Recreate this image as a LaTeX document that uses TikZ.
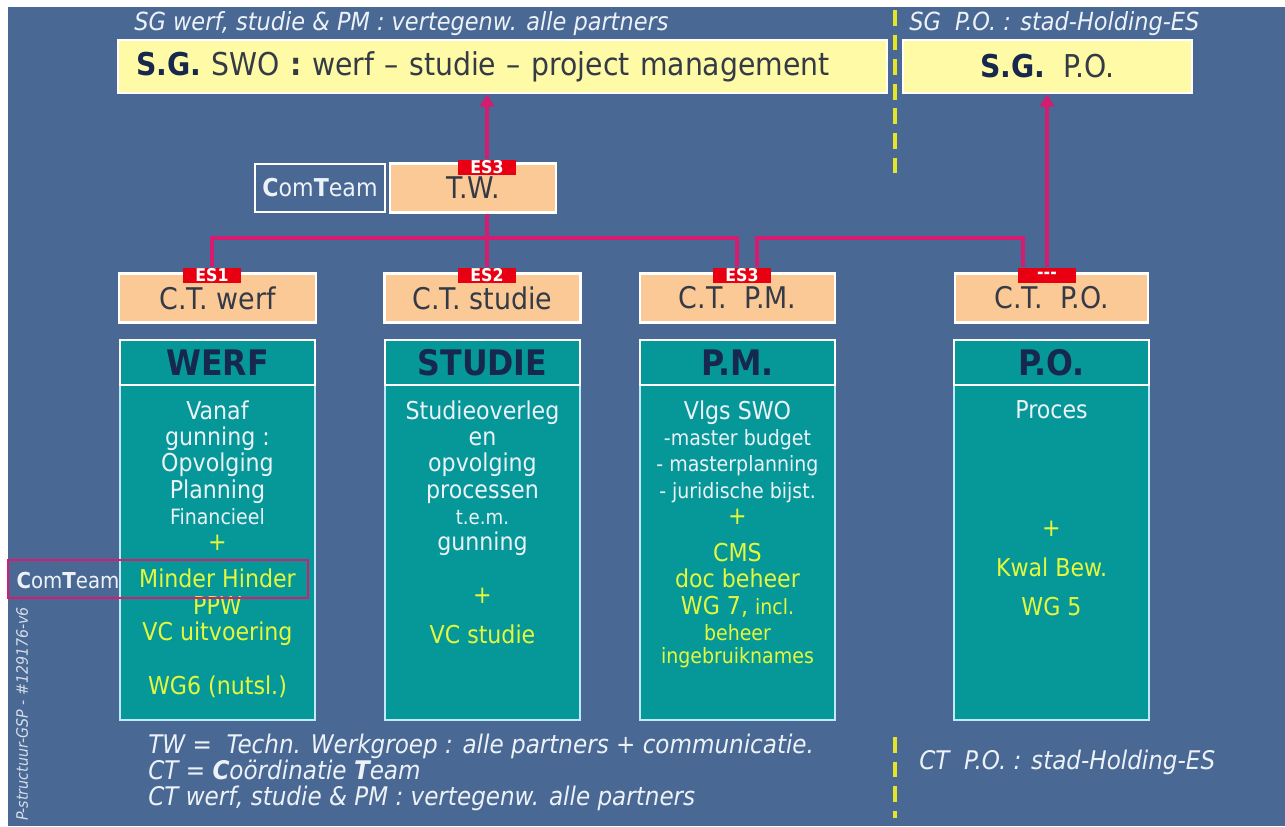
\documentclass[tikz,border=0pt]{standalone}
\usepackage{fontspec}
\setmainfont{DejaVu Sans Condensed}
\usetikzlibrary{arrows.meta}

\definecolor{slide}{RGB}{74,104,148}
\definecolor{tealbox}{RGB}{6,152,152}
\definecolor{peach}{RGB}{251,201,150}
\definecolor{lemon}{RGB}{255,250,165}
\definecolor{linkpink}{RGB}{214,28,112}
\definecolor{esred}{RGB}{232,0,18}
\definecolor{lime}{RGB}{230,248,60}
\definecolor{navyhead}{RGB}{22,40,78}
\definecolor{ink}{RGB}{52,58,70}
\definecolor{pale}{RGB}{236,242,248}
\definecolor{dashyellow}{RGB}{230,228,40}

\newcommand{\fsize}[2]{\fontsize{#1}{#2}\selectfont}
\newcommand{\yel}{\color{lime}}

\begin{document}
\begin{tikzpicture}[x=0.02cm, y=-0.02cm,
    sgbox/.style={draw=white, line width=1.5pt, fill=lemon, minimum height=1.06cm, inner sep=0pt, text=ink, font=\fsize{17.9}{22}},
    ctbox/.style={draw=white, line width=1.5pt, fill=peach, minimum height=0.98cm, inner sep=0pt, text=ink, font=\fsize{17}{20}},
    eslabel/.style={fill=esred, minimum width=1.16cm, minimum height=0.3cm, inner sep=0pt, text=white, font=\bfseries\fsize{10}{11}},
    colbox/.style={draw=white!75!cyan, line width=1.2pt, fill=tealbox, minimum width=3.9cm, minimum height=7.6cm, inner sep=0pt},
    colhead/.style={draw=white, line width=1.2pt, minimum width=3.9cm, minimum height=0.9cm, inner sep=0pt, text=navyhead, font=\bfseries\fsize{20}{22}},
    coltext/.style={anchor=north, align=center, inner sep=0pt, text=pale, font=\fsize{14}{15}},
    note/.style={inner sep=0pt, text=pale, font=\itshape\fsize{14.6}{14.8}, align=left},
    link/.style={draw=linkpink, line width=2pt},
    uparrow/.style={-{Triangle[width=8pt,length=7pt]}}]

    \useasboundingbox (0,0) rectangle (1285,826);
    \fill[white] (0,0) rectangle (1285,826);
    \fill[slide] (8,7) rectangle (1285,826);

    \draw[dashyellow, line width=2.5pt, dash pattern=on 9pt off 5pt] (895,10) -- (895,182);
    \draw[dashyellow, line width=2.5pt, dash pattern=on 9pt off 5pt] (895,737) -- (895,818);

    \node[note, anchor=west, font=\itshape\fsize{14.2}{15}] (sgnote) at (134,24) {SG werf, studie \& PM : vertegenw. alle partners};
    \node[note, anchor=west, font=\itshape\fsize{14.2}{15}] (ponote) at (909,24) {SG~~P.O. : stad-Holding-ES};

    \node[sgbox, text width=14.66cm, inner xsep=0.36cm, align=left] (sgswo) at (502.5,66.5) {{\bfseries\color{navyhead}S.G.} SWO {\bfseries :} werf – studie – project management};
    \node[sgbox, minimum width=5.78cm] (sgpo) at (1047.5,66.5) {{\bfseries\color{navyhead}S.G.}~~P.O.};

    \node[draw=white, line width=1.5pt, fill=slide, minimum width=2.6cm, minimum height=0.96cm, inner sep=0pt, text=pale, font=\fsize{14}{16}] (comteam) at (320,188) {{\bfseries C}om{\bfseries T}eam};
    \node[ctbox, minimum width=3.32cm] (tw) at (473,188) {T.W.};
    \node[eslabel] (es3tw) at (487,167) {ES3};

    \node[ctbox, minimum width=3.94cm] (ctwerf) at (217.5,298) {C.T. werf};
    \node[ctbox, minimum width=3.92cm] (ctstudie) at (482.5,298) {C.T. studie};
    \node[ctbox, minimum width=3.9cm] (ctpm) at (737.5,298) {C.T.~~P.M.};
    \node[ctbox, minimum width=3.86cm] (ctpo) at (1051.5,298) {C.T.~~P.O.};

    \node[eslabel] (es1) at (212,275) {ES1};
    \node[eslabel] (es2) at (487,275) {ES2};
    \node[eslabel] (es3pm) at (742,275) {ES3};
    \node[eslabel] (espo) at (1047,275) {-{}-{}-};

    \coordinate (hub) at (487,238);
    \coordinate (pmin) at (737,267);
    \coordinate (pmout) at (757,267);
    \coordinate (poin) at (1023,267);
    \coordinate (pobar) at (1023,238);

    \draw[link, uparrow] (es3tw.north) -- (sgswo.south -| es3tw.north);
    \draw[link] (tw.south -| hub) -- (hub);
    \draw[link] (es1.north) |- (hub) -- (es2.north);
    \draw[link] (hub) -| (pmin);
    \draw[link] (pmout) |- (pobar) -- (poin);
    \draw[link, uparrow] (espo.north) -- (sgpo.south -| espo.north);

    \node[colbox] (werf) at (217.5,530) {};
    \node[colbox] (studie) at (482.5,530) {};
    \node[colbox] (pm) at (737.5,530) {};
    \node[colbox] (po) at (1051.5,530) {};

    \node[colhead] (werfhead) at (217.5,362.5) {WERF};
    \node[colhead] (studiehead) at (482.5,362.5) {STUDIE};
    \node[colhead] (pmhead) at (737.5,362.5) {P.M.};
    \node[colhead] (pohead) at (1051.5,362.5) {P.O.};

    \node[coltext] (werftext) at (217.5,400) {Vanaf\\gunning :\\Opvolging\\Planning\\{\fsize{12}{15}Financieel}\\\yel +\\[6pt]\yel Minder Hinder\\\yel PPW\\\yel VC uitvoering\\[16pt]\yel WG6 (nutsl.)};
    \node[coltext] (studietext) at (482.5,400) {Studieoverleg\\en\\opvolging\\processen\\{\fsize{11.5}{15}t.e.m.}\\gunning\\[15pt]\yel +\\[8pt]\yel VC studie};
    \node[coltext] (pmtext) at (737.5,400) {Vlgs SWO\\{\fsize{12}{15}-master budget}\\{\fsize{12}{15}- masterplanning}\\{\fsize{12}{15}- juridische bijst.}\\\yel +\\[6pt]\yel CMS\\\yel doc beheer\\\yel WG 7, {\fsize{12}{15}incl.}\\{\yel\fsize{12}{15}beheer}\\[-2pt]{\yel\fsize{12}{15}ingebruiknames}};
    \node[coltext] (potext) at (1051.5,400) {Proces\\[52pt]\yel +\\[8pt]\yel Kwal Bew.\\[7pt]\yel WG 5};

    \node[draw=linkpink, line width=1.5pt, minimum width=6cm, minimum height=0.76cm, inner sep=0pt] (comteammark) at (158,579) {};
    \node[text=pale, font=\fsize{12.5}{15}] (comteamside) at (68,580) {{\bfseries C}om{\bfseries T}eam};

    \node[rotate=90, text=pale!85!slide, font=\itshape\fsize{9}{11}] (docref) at (22,714) {P-structuur-GSP - \#129176-v6};

    \node[note, anchor=north west] (legend) at (148,734) {TW =~~Techn. Werkgroep : alle partners + communicatie.\\CT = {\bfseries C}oördinatie {\bfseries T}eam\\CT werf, studie \& PM : vertegenw. alle partners};
    \node[note, anchor=west] (polegend) at (919,762) {CT~~P.O. : stad-Holding-ES};
\end{tikzpicture}
\end{document}
